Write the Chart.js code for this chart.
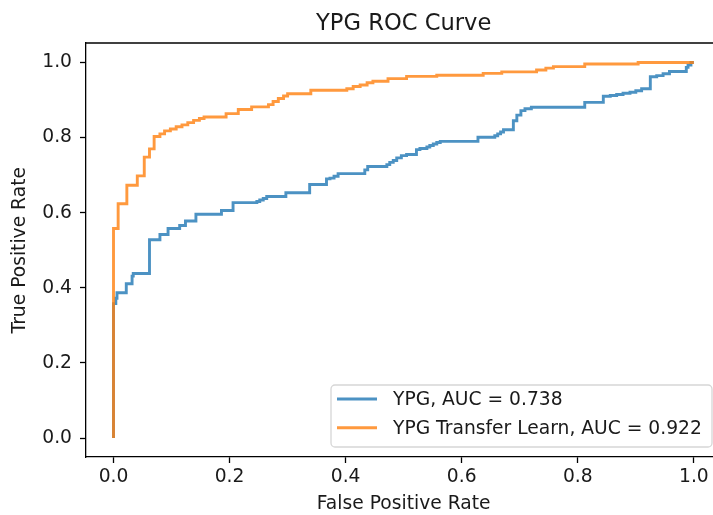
<!DOCTYPE html>
<html lang="en">
<head>
  <meta charset="UTF-8" />
  <title>YPG ROC Curve</title>
  <script src="https://cdn.jsdelivr.net/npm/chart.js"></script>
  <style>
    html, body { margin: 0; padding: 0; background: #fff; }
    #wrap { width: 713px; height: 515px; position: relative; }
  </style>
</head>
<body>
  <div id="wrap"><canvas id="roc"></canvas></div>

  <script>
    // ROC curve points (drawn as a staircase)
    const ypgFpr = [0, 0, 0.004, 0.006, 0.008, 0.022, 0.024, 0.032, 0.034, 0.043, 0.062, 0.062, 0.080, 0.082, 0.094,
      0.096, 0.114, 0.116, 0.124, 0.126, 0.142, 0.145, 0.186, 0.188, 0.206, 0.208, 0.247, 0.252, 0.258, 0.264,
      0.270, 0.297, 0.299, 0.338, 0.341, 0.367, 0.373, 0.380, 0.387, 0.393, 0.433, 0.438, 0.442, 0.471, 0.476,
      0.482, 0.488, 0.496, 0.505, 0.522, 0.528, 0.540, 0.545, 0.551, 0.557, 0.563, 0.568, 0.628, 0.628, 0.657,
      0.662, 0.667, 0.672, 0.677, 0.689, 0.689, 0.695, 0.702, 0.709, 0.720, 0.732, 0.812, 0.812, 0.844, 0.844,
      0.856, 0.867, 0.878, 0.890, 0.900, 0.910, 0.918, 0.925, 0.925, 0.936, 0.947, 0.958, 0.970, 0.987, 0.990,
      0.995, 1.0];
    const ypgTpr = [0, 0.358, 0.358, 0.372, 0.387, 0.387, 0.411, 0.411, 0.431, 0.438, 0.438, 0.528, 0.528, 0.542, 0.542,
      0.558, 0.558, 0.566, 0.566, 0.578, 0.578, 0.596, 0.596, 0.606, 0.606, 0.627, 0.627, 0.630, 0.634, 0.638,
      0.643, 0.643, 0.653, 0.653, 0.675, 0.675, 0.690, 0.692, 0.697, 0.704, 0.704, 0.714, 0.723, 0.723, 0.728,
      0.734, 0.739, 0.746, 0.752, 0.755, 0.768, 0.771, 0.775, 0.779, 0.783, 0.787, 0.790, 0.790, 0.801, 0.801,
      0.805, 0.810, 0.815, 0.821, 0.821, 0.845, 0.845, 0.860, 0.872, 0.877, 0.881, 0.881, 0.894, 0.894, 0.909,
      0.910, 0.912, 0.915, 0.918, 0.921, 0.925, 0.930, 0.930, 0.960, 0.962, 0.965, 0.970, 0.976, 0.976, 0.987,
      0.993, 1.0];

    const tlFpr = [0, 0, 0.008, 0.008, 0.023, 0.023, 0.041, 0.041, 0.053, 0.053, 0.062, 0.062, 0.070, 0.070, 0.080,
      0.088, 0.098, 0.108, 0.118, 0.128, 0.138, 0.148, 0.156, 0.194, 0.194, 0.215, 0.215, 0.238, 0.238, 0.267,
      0.275, 0.284, 0.293, 0.300, 0.307, 0.340, 0.340, 0.402, 0.413, 0.425, 0.437, 0.447, 0.473, 0.473, 0.505,
      0.505, 0.557, 0.557, 0.637, 0.637, 0.669, 0.669, 0.729, 0.745, 0.758, 0.812, 0.812, 0.904, 0.904, 1.0];
    const tlTpr = [0, 0.558, 0.558, 0.624, 0.624, 0.673, 0.673, 0.698, 0.698, 0.748, 0.748, 0.770, 0.770, 0.803, 0.803,
      0.810, 0.818, 0.823, 0.829, 0.834, 0.840, 0.846, 0.851, 0.855, 0.864, 0.864, 0.875, 0.875, 0.882, 0.882,
      0.888, 0.896, 0.904, 0.911, 0.917, 0.917, 0.926, 0.926, 0.930, 0.936, 0.940, 0.946, 0.950, 0.957, 0.957,
      0.963, 0.963, 0.966, 0.966, 0.971, 0.971, 0.975, 0.975, 0.980, 0.985, 0.989, 0.996, 0.996, 1.0, 1.0];

    const seriesNames = ['YPG, AUC = 0.738', 'YPG Transfer Learn, AUC = 0.922'];
    const seriesColors = ['rgba(31,119,180,0.8)', 'rgba(255,127,14,0.8)'];
    const xTicks = [0, 0.2, 0.4, 0.6, 0.8, 1.0];
    const yTicks = [0, 0.2, 0.4, 0.6, 0.8, 1.0];

    const toPoints = (xs, ys) => xs.map((x, i) => ({ x: x, y: ys[i] }));
    const FONT = 'DejaVu Sans';
    const TXT = '#1a1a1a';
    const LW = 2.9;

    // top spine, titles and the legend box, matplotlib style
    const extras = {
      id: 'extras',
      afterDatasetsDraw(chart) {
        const { ctx, chartArea } = chart;
        const xs = chart.scales.x, ys = chart.scales.y;
        ctx.save();
        ctx.strokeStyle = '#000';
        ctx.lineWidth = 1.3;
        ctx.beginPath();
        ctx.moveTo(chartArea.left, chartArea.top);
        ctx.lineTo(chartArea.right, chartArea.top);
        ctx.stroke();

        // titles centred on the axes (x = 0.5, y = 0.5)
        const cx = xs.getPixelForValue(0.5);
        ctx.fillStyle = TXT;
        ctx.textAlign = 'center';
        ctx.textBaseline = 'middle';
        ctx.font = '22.6px "' + FONT + '"';
        ctx.fillText('YPG ROC Curve', cx, 24);
        ctx.font = '18.7px "' + FONT + '"';
        ctx.fillText('False Positive Rate', cx, 504);
        ctx.save();
        ctx.translate(20, ys.getPixelForValue(0.5));
        ctx.rotate(-Math.PI / 2);
        ctx.fillText('True Positive Rate', 0, 0);
        ctx.restore();

        // legend
        const bx = 331, by = 385, bw = 381, bh = 62, r = 4;
        ctx.fillStyle = 'rgba(255,255,255,0.8)';
        ctx.strokeStyle = 'rgba(204,204,204,0.8)';
        ctx.lineWidth = 1.3;
        ctx.beginPath();
        ctx.roundRect(bx, by, bw, bh, r);
        ctx.fill();
        ctx.stroke();

        ctx.textAlign = 'left';
        seriesNames.forEach((name, i) => {
          const ly = 399 + i * 28.7;
          ctx.strokeStyle = seriesColors[i];
          ctx.lineWidth = LW;
          ctx.beginPath();
          ctx.moveTo(337, ly);
          ctx.lineTo(377, ly);
          ctx.stroke();
          ctx.fillStyle = TXT;
          ctx.fillText(name, 393, ly + 1);
        });
        ctx.restore();
      }
    };

    new Chart(document.getElementById('roc'), {
      type: 'scatter',
      data: {
        datasets: [
          { label: seriesNames[0], data: toPoints(ypgFpr, ypgTpr), showLine: true, stepped: 'after',
            borderColor: seriesColors[0], borderWidth: LW, pointRadius: 0, order: 2 },
          { label: seriesNames[1], data: toPoints(tlFpr, tlTpr), showLine: true, stepped: 'after',
            borderColor: seriesColors[1], borderWidth: LW, pointRadius: 0, order: 1 }
        ]
      },
      options: {
        responsive: true,
        maintainAspectRatio: false,
        animation: false,
        layout: { padding: { left: 0, right: 0, top: 43, bottom: 0 } },
        plugins: {
          legend: { display: false },
          tooltip: { enabled: false }
        },
        scales: {
          x: {
            type: 'linear',
            min: -0.0474,
            max: 1.033,
            afterBuildTicks: s => { s.ticks = xTicks.map(v => ({ value: v })); },
            afterFit: s => { s.height = 58; },
            ticks: { color: TXT, font: { family: FONT, size: 18.7 }, padding: 3, callback: v => v.toFixed(1) },
            grid: { drawOnChartArea: false, drawTicks: true, tickLength: 6, tickWidth: 1.3, tickColor: '#000' },
            border: { display: true, color: '#000', width: 1.3 }
          },
          y: {
            type: 'linear',
            min: -0.0506,
            max: 1.052,
            afterBuildTicks: s => { s.ticks = yTicks.map(v => ({ value: v })); },
            afterFit: s => { s.width = 86; },
            ticks: { color: TXT, font: { family: FONT, size: 18.7 }, padding: 8, callback: v => v.toFixed(1) },
            grid: { drawOnChartArea: false, drawTicks: true, tickLength: 6, tickWidth: 1.3, tickColor: '#000' },
            border: { display: true, color: '#000', width: 1.3 }
          }
        }
      },
      plugins: [extras]
    });
  </script>
</body>
</html>
